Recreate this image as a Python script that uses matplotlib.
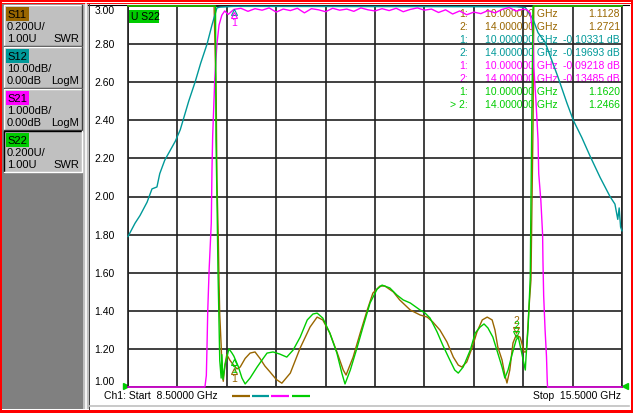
"""Network analyzer screen: 4-trace filter sweep (S11/S22 SWR, S12/S21 LogM)."""

import numpy as np
import matplotlib
matplotlib.use("Agg")
import matplotlib.pyplot as plt
from matplotlib.patches import Rectangle
from matplotlib.transforms import offset_copy

plt.rcParams["font.family"] = ["Liberation Sans", "DejaVu Sans"]

W, H = 633, 413
FS = 7.5

# sweep and graticule (SWR scale is the one that is labelled)
F_START, F_STOP = 8.5, 15.5
GRID_BOTTOM, GRID_TOP = 1.0, 3.0
Y_TICKS = [1.00, 1.20, 1.40, 1.60, 1.80, 2.00, 2.20, 2.40, 2.60, 2.80, 3.00]

TRACES = ["S11", "S12", "S21", "S22"]
TRACE_COLORS = ["#996600", "#009999", "#ff00ff", "#00cc00"]
SCALE_TEXT = ["0.200U/", "10.00dB/", "1.000dB/", "0.200U/"]
REF_TEXT = ["1.00U", "0.00dB", "0.00dB", "1.00U"]
FORMAT_TEXT = ["SWR", "LogM", "LogM", "SWR"]

# S11, SWR (values above 3.00 are pinned to the top of the screen)
S11_F = [8.50, 9.72, 9.75, 9.76, 9.78, 9.79, 9.80, 9.82, 9.83, 9.85,
         9.875, 9.90, 9.945, 10.00, 10.045, 10.09, 10.16, 10.23, 10.30, 10.37,
         10.44, 10.51, 10.60, 10.68, 10.80, 10.94, 11.08, 11.18, 11.26, 11.36,
         11.46, 11.55, 11.59, 11.69, 11.79, 11.89, 11.97, 12.07, 12.14, 12.26,
         12.35, 12.50, 12.64, 12.74, 12.82, 12.92, 13.02, 13.11, 13.18, 13.23,
         13.30, 13.375, 13.445, 13.52, 13.59, 13.66, 13.70, 13.74, 13.80, 13.84,
         13.87, 13.91, 13.955, 14.00, 14.055, 14.08, 14.11, 14.14, 14.15, 14.18,
         14.21, 14.225, 14.24, 14.25, 15.50]
S11_SWR = [3.0, 3.0, 2.51, 2.09, 1.77, 1.55, 1.38, 1.22, 1.12, 1.03,
           1.12, 1.17, 1.14, 1.113, 1.095, 1.105, 1.15, 1.178, 1.184, 1.15,
           1.11, 1.08, 1.04, 1.02, 1.073, 1.205, 1.315, 1.367, 1.352, 1.283,
           1.184, 1.089, 1.063, 1.157, 1.283, 1.404, 1.493, 1.530, 1.530, 1.499,
           1.457, 1.404, 1.378, 1.367, 1.341, 1.299, 1.236, 1.157, 1.115, 1.105,
           1.131, 1.205, 1.289, 1.352, 1.367, 1.352, 1.299, 1.210, 1.142, 1.063,
           1.021, 1.089, 1.231, 1.272, 1.262, 1.231, 1.184, 1.184, 1.21, 1.404,
           1.562, 1.98, 2.40, 3.0, 3.0]

# S12, dB
S12_F = [8.50, 8.60, 8.67, 8.77, 8.84, 8.91, 8.95, 9.02, 9.08, 9.17,
         9.24, 9.28, 9.36, 9.45, 9.53, 9.62, 9.69, 9.76, 9.80, 10.00,
         11.00, 12.00, 13.00, 14.00, 14.13, 14.24, 14.31, 14.41, 14.51, 14.59,
         14.72, 14.81, 14.93, 15.05, 15.19, 15.33, 15.40, 15.44, 15.46, 15.48,
         15.50]
S12_DB = [-60.5, -57.0, -55.0, -51.5, -48.0, -47.5, -44.0, -40.5, -38.5, -35.5,
          -32.5, -30.0, -25.0, -20.0, -15.0, -10.0, -5.0, -0.5, -0.3, -0.10,
          -0.12, -0.15, -0.17, -0.20, -0.4, -3.5, -7.0, -9.5, -14.5, -18.5,
          -25.5, -30.0, -34.5, -39.5, -45.0, -50.0, -52.0, -56.0, -53.0, -58.0,
          -59.0]

# S21, dB (below -10 dB the trace sits on the bottom line)
S21_F = [8.50, 9.59, 9.61, 9.62, 9.63, 9.65, 9.68, 9.69, 9.70, 9.73,
         9.76, 9.79, 9.83, 9.87, 9.92,
         10.0, 10.1, 10.2, 10.3, 10.4, 10.5, 10.6, 10.7, 10.8, 10.9,
         11.0, 11.1, 11.2, 11.3, 11.4, 11.5, 11.6, 11.7, 11.8, 11.9,
         12.0, 12.1, 12.2, 12.3, 12.4, 12.5, 12.6, 12.7, 12.8, 12.9,
         13.0, 13.1, 13.2, 13.3, 13.4, 13.5, 13.6, 13.7, 13.8, 13.9,
         14.0, 14.1,
         14.15, 14.20, 14.24, 14.25, 14.28, 14.31, 14.32, 14.35, 14.375, 14.38,
         14.39, 14.41, 14.43, 14.44, 14.445, 15.50]
S21_DB = [-10.0, -10.0, -9.7, -8.9, -8.0, -6.9, -5.7, -4.3, -3.4, -1.9,
          -1.0, -0.5, -0.24, -0.13, -0.22,
          -0.09, -0.06, -0.14, -0.07, -0.11, -0.05, -0.16, -0.08, -0.12, -0.06,
          -0.18, -0.07, -0.10, -0.15, -0.06, -0.11, -0.08, -0.14, -0.05, -0.10,
          -0.13, -0.07, -0.12, -0.06, -0.15, -0.09, -0.05, -0.11, -0.08, -0.17,
          -0.10, -0.21, -0.13, -0.23, -0.16, -0.20, -0.12, -0.18, -0.09, -0.04,
          -0.135, -0.08,
          -0.10, -0.18, -0.81, -1.6, -2.47, -3.5, -4.4, -5.1, -6.0, -6.7,
          -7.6, -8.5, -9.2, -9.8, -10.0, -10.0]

# S22, SWR
S22_F = [8.50, 9.74, 9.747, 9.761, 9.775, 9.789, 9.80, 9.82, 9.83, 9.846,
         9.875, 9.93, 9.97, 10.00, 10.06, 10.115, 10.16, 10.23, 10.33, 10.40,
         10.47, 10.555, 10.65, 10.75, 10.84, 10.94, 11.04, 11.12, 11.18, 11.26,
         11.36, 11.46, 11.53, 11.575, 11.65, 11.745, 11.83, 11.93, 12.03, 12.10,
         12.21, 12.31, 12.40, 12.50, 12.64, 12.71, 12.78, 12.88, 12.96, 13.06,
         13.13, 13.18, 13.25, 13.35, 13.42, 13.49, 13.545, 13.60, 13.67, 13.74,
         13.80, 13.84, 13.885, 13.94, 14.00, 14.03, 14.07, 14.10, 14.13, 14.14,
         14.17, 14.20, 14.21, 14.225, 14.24, 15.50]
S22_SWR = [3.0, 3.0, 2.30, 1.98, 1.61, 1.35, 1.14, 1.047, 1.17, 1.04,
           1.115, 1.20, 1.18, 1.162, 1.11, 1.047, 1.016, 1.047, 1.105, 1.142,
           1.178, 1.184, 1.173, 1.157, 1.194, 1.262, 1.352, 1.383, 1.388, 1.362,
           1.283, 1.178, 1.073, 1.016, 1.089, 1.205, 1.315, 1.441, 1.514, 1.535,
           1.52, 1.483, 1.457, 1.441, 1.404, 1.388, 1.362, 1.289, 1.22, 1.142,
           1.089, 1.073, 1.105, 1.194, 1.283, 1.315, 1.331, 1.31, 1.262, 1.178,
           1.105, 1.047, 1.089, 1.168, 1.247, 1.262, 1.194, 1.142, 1.089, 1.157,
           1.315, 1.577, 1.98, 2.51, 3.0, 3.0]

# markers
MARKER_F = [10.0, 14.0]
S11_MKR = [1.1128, 1.2721]
S12_MKR = [-0.10331, -0.19693]
S21_MKR = [-0.09218, -0.13485]
S22_MKR = [1.1620, 1.2466]


def db_to_grid(db, per_div):
    """LogM trace with 0 dB reference at the top line, 0.2 grid units per div."""
    return GRID_TOP + np.asarray(db) / per_div * 0.2


def on_screen(v):
    return np.clip(np.asarray(v, dtype=float), GRID_BOTTOM, GRID_TOP)


fig = plt.figure(figsize=(W / 100, H / 100), dpi=100)
fig.patch.set_facecolor("white")

# ---- frame, drawn in pixel coordinates ----
bg = fig.add_axes([0, 0, 1, 1])
bg.set_xlim(0, W)
bg.set_ylim(H, 0)
bg.axis("off")
bg.add_patch(Rectangle((0, 0), W, H, fc="#ff0000", ec="none"))
bg.add_patch(Rectangle((2, 2), W - 4, H - 5, fc="white", ec="none"))
bg.plot([2, W - 2], [3, 3], color="#ff0000", lw=0.7)
bg.plot([88, W - 4], [4.6, 4.6], color="black", lw=0.8)
bg.add_patch(Rectangle((2, 4), 81, H - 8, fc="#808080", ec="none"))
bg.add_patch(Rectangle((83, 4), 6, H - 8, fc="#c0c0c0", ec="none"))
bg.plot([85.5, 85.5], [4, H - 4], color="white", lw=1.2)
bg.plot([88.5, 88.5], [4, H - 4], color="#404040", lw=0.7)
bg.plot([88, W - 4], [406, 406], color="#c0c0c0", lw=1.2)

# trace setup boxes
for i, name in enumerate(TRACES):
    y0 = 5 + 42 * i
    bg.add_patch(Rectangle((4, y0), 78, 41, fc="#c0c0c0", ec="none"))
    light, dark = ("white", "#404040") if i < 3 else ("black", "white")
    bg.plot([4, 4, 82], [y0 + 41, y0, y0], color=light, lw=1.0)
    bg.plot([4, 82, 82], [y0 + 41, y0 + 41, y0], color=dark, lw=1.0)
    bg.add_patch(Rectangle((6, y0 + 2), 23, 14, fc=TRACE_COLORS[i], ec="none"))
    bg.text(7.5, y0 + 9.5, name, fontsize=8, va="center", ha="left")
    bg.text(7, y0 + 22.5, SCALE_TEXT[i], fontsize=8, va="center", ha="left")
    bg.text(7, y0 + 33.5, REF_TEXT[i], fontsize=8, va="center", ha="left")
    bg.text(79, y0 + 33.5, FORMAT_TEXT[i], fontsize=8, va="center", ha="right")

# status line
bg.text(104, 396, "Ch1: Start  8.50000 GHz", fontsize=FS, va="center", ha="left")
bg.text(621, 396, "Stop  15.5000 GHz", fontsize=FS, va="center", ha="right")
for i, (x0, x1) in enumerate([(232, 250), (252, 269), (271, 289), (292, 310)]):
    bg.plot([x0, x1], [396, 396], color=TRACE_COLORS[i], lw=1.6,
            solid_capstyle="butt")

# ---- graticule ----
ax = fig.add_axes([128 / W, (H - 387) / H, 494 / W, 381 / H])
ax.set_xlim(F_START, F_STOP)
ax.set_ylim(GRID_BOTTOM, GRID_TOP)
ax.set_facecolor("white")
ax.set_xticks(np.linspace(F_START, F_STOP, 11))
ax.set_xticklabels([])
ax.set_yticks(Y_TICKS)
ax.set_yticklabels([f"{v:.2f}" for v in Y_TICKS], fontsize=FS)
ax.tick_params(length=0, pad=9.4)
ylabels = ax.get_yticklabels()
ylabels[0].set_va("bottom")
ylabels[-1].set_va("top")
ax.grid(True, color="#202020", lw=1.2)
for sp in ax.spines.values():
    sp.set_color("#202020")
    sp.set_linewidth(1.2)

traces = [
    (S11_F, on_screen(S11_SWR)),
    (S12_F, on_screen(db_to_grid(S12_DB, 10.0))),
    (S21_F, on_screen(db_to_grid(S21_DB, 1.0))),
    (S22_F, on_screen(S22_SWR)),
]
for i, (f, v) in enumerate(traces):
    ax.plot(f, v, color=TRACE_COLORS[i], lw=1.0, zorder=3 + i, clip_on=False)

# marker triangles: marker 1 below the point, active marker 2 above it
# (an upward marker on a trace at the top line falls off the screen)
mkr_vals = [on_screen(S11_MKR), on_screen(db_to_grid(S12_MKR, 10.0)),
            on_screen(db_to_grid(S21_MKR, 1.0)), on_screen(S22_MKR)]
for i, vals in enumerate(mkr_vals):
    for k, (f, v) in enumerate(zip(MARKER_F, vals)):
        sign = -1 if k == 0 else 1
        if sign > 0 and v > GRID_TOP - 0.05:
            continue
        tri = offset_copy(ax.transData, fig=fig, y=sign * 4.0, units="points")
        num = offset_copy(ax.transData, fig=fig, y=sign * 10.0, units="points")
        ax.plot([f], [v], marker="^" if k == 0 else "v", ms=5, mfc="none",
                mec=TRACE_COLORS[i], mew=0.8, transform=tri, zorder=8)
        if TRACES[i] != "S12":  # S12's number sits right under S21's
            ax.text(f, v, str(k + 1), color=TRACE_COLORS[i], fontsize=FS,
                    ha="center", va="center", transform=num, zorder=8)

# active trace tag
ax.add_patch(Rectangle((129, 10), 30, 13, fc="#00cc00", ec="none",
                       transform=bg.transData, zorder=8, clip_on=False))
ax.text(131, 16.5, "U S22", fontsize=FS, va="center", ha="left",
        transform=bg.transData, zorder=9)

# marker readout (under the grid, like the instrument draws it)
rows = []
for i, vals in enumerate([S11_MKR, S12_MKR, S21_MKR, S22_MKR]):
    for k, (f, v) in enumerate(zip(MARKER_F, vals)):
        val = f"{v:.4f}" if FORMAT_TEXT[i] == "SWR" else f"{v:.5f} dB"
        tag = f"{k + 1}:"
        if i == 3 and k == 1:
            tag = "> " + tag
        rows.append((tag, f"{f:.6f} GHz", val, TRACE_COLORS[i]))
for r, (tag, freq, val, col) in enumerate(rows):
    y = 14 + 13 * r
    for x, s, ha in [(468, tag, "right"), (485, freq, "left"), (620, val, "right")]:
        ax.text(x, y, s, color=col, fontsize=FS, ha=ha, va="center",
                transform=bg.transData, zorder=1)

# stimulus end arrows
bg.plot([126], [386], marker=">", ms=5, color="#00cc00", zorder=10)
bg.plot([625], [386], marker="<", ms=5, color="#00cc00", zorder=10)
bg.set_zorder(0)
ax.set_zorder(1)

fig.savefig("out.png", dpi=100)
